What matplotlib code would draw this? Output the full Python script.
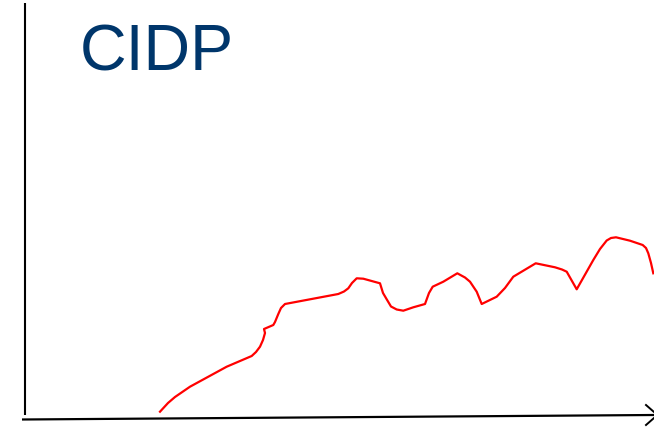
import matplotlib
matplotlib.use("Agg")
import matplotlib.pyplot as plt

# Disease course (CIDP) (x: time, y: disability level)
time = [160, 168, 175, 190, 226.7, 251.7, 256, 260, 263, 265, 264, 273.3, 275, 278.3,
        281, 285, 338.3, 344, 348.3, 352, 356.7, 363.3, 380, 383, 386.7, 391, 396.7,
        403.3, 413.3, 425, 429, 432.7, 443.3, 457.3, 465, 470, 476.7, 481.7, 496.7,
        505, 513.3, 535.7, 555, 562, 566.7, 576.7, 593.3, 600, 606.7, 611, 616, 630,
        642.7, 646, 648.3, 651, 653.3]
level = [16.3, 25, 31, 41.3, 61.3, 72, 76, 81.3, 88, 95, 99, 103, 106, 114,
         120, 124, 134, 136.5, 139.7, 145, 149.7, 149.3, 144.7, 135, 128.7, 121.5, 118.5,
         117.3, 120.7, 124, 135, 141.3, 146.3, 154.7, 150.5, 146.3, 136.3, 124, 131.3,
         140, 151.3, 164.7, 160.7, 158.5, 156.3, 138.7, 168, 179, 187.5, 190, 190.7, 187.3,
         183, 180, 174.7, 165, 154.7]

title_text = "CIDP"

fig = plt.figure(figsize=(6.54, 4.28), dpi=100)
ax = fig.add_axes([0, 0, 1, 1])
ax.set_xlim(0, 654)
ax.set_ylim(0, 428)
ax.axis("off")

# axes drawn as in the sketch
ax.plot([24.5, 24.5], [425, 13], color="black", lw=1.5, solid_capstyle="butt")
ax.plot([22, 654], [8.5, 13], color="black", lw=1.6, solid_capstyle="butt")
ax.plot([646, 654], [23, 16], color="black", lw=1.4)
ax.plot([646, 654], [3, 10], color="black", lw=1.4)

ax.plot(time, level, color="#ff0000", lw=1.6)

ax.text(80, 428 - 70.5, title_text, color="#00366b", fontsize=46.5,
        family="Liberation Sans", ha="left", va="baseline")

fig.savefig("out.png", dpi=100)
